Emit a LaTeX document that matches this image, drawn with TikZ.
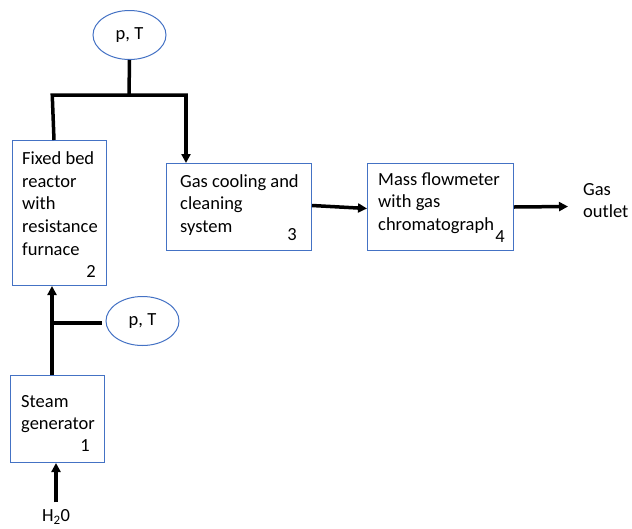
\documentclass[tikz,border=0pt]{standalone}
\usepackage{fontspec}
\setmainfont{Carlito}
\usetikzlibrary{arrows.meta,shapes.geometric}
\definecolor{boxblue}{RGB}{68,114,196}
\begin{document}
\begin{tikzpicture}[x=1pt,y=-1pt,
  every node/.style={font=\fontsize{18.5}{22.6}\selectfont, inner sep=0pt},
  unitbox/.style={draw=boxblue, line width=1pt, rectangle, anchor=north west},
  sensor/.style={draw=boxblue, line width=1pt, ellipse, minimum width=73pt, minimum height=49pt},
  boxtext/.style={anchor=base west, align=left},
  numtext/.style={anchor=base east},
  pipe/.style={line width=3.5pt},
  flow/.style={line width=3.5pt, -{Triangle[length=9pt,width=9pt]}}]
\useasboundingbox (0,0) rectangle (632,528);
% boxes
\node[unitbox, minimum width=94pt, minimum height=145pt] (b2) at (12,140) {};
\node[unitbox, minimum width=145pt, minimum height=87pt] (b3) at (166,163) {};
\node[unitbox, minimum width=146pt, minimum height=87pt] (b4) at (367,163) {};
\node[unitbox, minimum width=94pt, minimum height=87pt] (b1) at (10,375) {};
% texts (base anchor = baseline of last line)
\node[boxtext] (t2) at (22,255) {Fixed bed\\reactor\\with\\resistance\\furnace};
\node[numtext] (n2) at (96,277) {2};
\node[boxtext] (t3) at (180,232.2) {Gas cooling and\\cleaning\\system};
\node[numtext] (n3) at (297,240) {3};
\node[boxtext] (t4) at (378,230.2) {Mass flowmeter\\with gas\\chromatograph};
\node[numtext] (n4) at (505,242) {4};
\node[boxtext] (t1) at (21,429.6) {Steam\\generator};
\node[numtext] (n1) at (90,451) {1};
\node[boxtext] (out) at (583,217.6) {Gas\\outlet};
\node[anchor=base] (h2o) at (56,521.5) {H\textsubscript{2}0};
% sensors
\node[sensor] (e1) at (129.5,35) {p, T};
\node[sensor] (e2) at (142.5,321) {p, T};
% connectors
\coordinate (j1) at (129,95);
\coordinate (jl) at (54,95);
\coordinate (jr) at (186,95);
\coordinate (j2) at (52,323);
\coordinate (gout) at (568,206.5);
\draw[pipe] (e1.south) -- (j1);
\draw[pipe] (jl |- b2.north) -- ([xshift=-1.75pt]jl) -- ([xshift=1.75pt]jr);
\draw[flow] (jr) -- (jr |- b3.north);
\draw[flow] (j2 |- b1.north) -- (j2 |- b2.south);
\draw[pipe] (j2) -- ([xshift=-4pt]j2 -| e2.west);
\draw[flow, shorten <=7pt] (h2o.north) -- (h2o.north |- b1.south);
\draw[flow] ([yshift=1.5pt]b3.east) -- ([yshift=-1.5pt]b4.west);
\draw[flow] (b4.east) -- (gout);
\end{tikzpicture}
\end{document}
